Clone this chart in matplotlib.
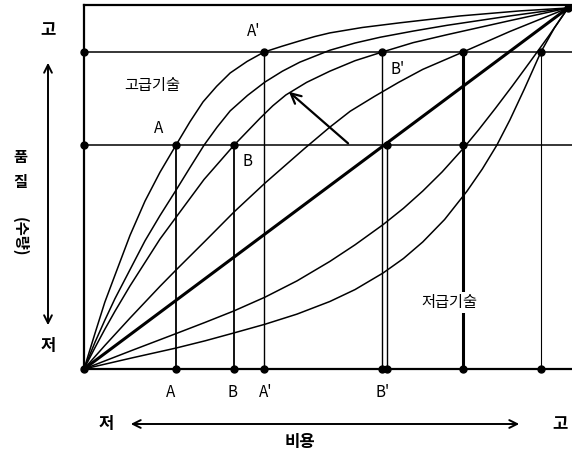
import matplotlib
matplotlib.use("Agg")
import matplotlib.pyplot as plt

plt.rcParams['font.family'] = ['Noto Sans CJK KR', 'DejaVu Sans']

# cost (x) and quality (y) on a 0-100 scale
hi1_x = [0, 2.3, 4.3, 6.4, 9.5, 12.6, 15.7, 19.0, 21.9, 24.6, 27.4, 30.2, 33.7, 37.2, 40.9, 44.6, 47.7, 50.8, 57.5, 65.3, 77.7, 90.1, 100]
hi1_y = [0, 10, 18.5, 26, 37, 46.5, 54.5, 62, 68.5, 74, 78.3, 82, 85.2, 87.8, 89.4, 90.9, 92.1, 93.1, 94.6, 95.9, 97.8, 99.2, 100]
hi2_x = [0, 2.3, 4.3, 6.4, 9.5, 12.6, 15.7, 19.0, 21.9, 24.8, 27.5, 30.2, 33.8, 37.4, 41, 44.6, 50.8, 56, 61.2, 68, 75, 88, 100]
hi2_y = [0, 7.5, 13.5, 19.5, 27.5, 35.5, 42.5, 49.5, 55.8, 62, 67, 71.5, 75.8, 79.5, 82.5, 85, 88.3, 90.3, 91.9, 93.6, 95.2, 97.8, 100]
hi3_x = [0, 2.3, 4.3, 6.4, 9.5, 12.6, 15.7, 19.0, 24.8, 31.0, 36.4, 39, 41.7, 46, 50.8, 56, 61.6, 68, 75, 88, 100]
hi3_y = [0, 6, 11, 16, 23, 29.5, 36, 42, 52.5, 62, 69.5, 72.9, 75.9, 79.4, 82.5, 85.4, 87.8, 90.4, 92.6, 96.5, 100]
hi4_x = [0, 4.3, 9.5, 15.7, 19.0, 25.0, 31.0, 37.4, 45.5, 50.8, 55, 60, 65, 70, 78.3, 88, 100]
hi4_y = [0, 6.5, 14.1, 22.9, 27.4, 35.4, 43.5, 51.5, 61, 67, 71.4, 75.5, 79.4, 83, 87.8, 93.5, 100]
diag_x = [0, 100]
diag_y = [0, 100]
lo1_x = [0, 10, 19.0, 25, 31.0, 37.4, 44, 50.8, 56, 61.8, 66, 70, 74, 78.3, 81.5, 85, 88.5, 92, 96, 100]
lo1_y = [0, 5.2, 9.8, 12.9, 16.1, 19.9, 24.4, 29.8, 34.4, 40.0, 44.5, 49.3, 54.6, 61, 66.2, 72.2, 78.4, 84.8, 92.2, 100]
lo2_x = [0, 10, 19.0, 25, 31.0, 37.4, 44, 50.8, 56, 61.8, 66, 70, 74.5, 79.1, 82.3, 85.3, 88, 91, 94.4, 97.2, 100]
lo2_y = [0, 3.1, 5.8, 7.8, 10, 12.4, 15.2, 18.7, 22, 26.6, 30.6, 35.2, 41.4, 49.2, 55.4, 62, 69, 77.6, 87.8, 94.5, 100]

q_levels = [62.0, 87.8]
# vertical drop lines: cost, top quality
drop_x = [19.0, 31.0, 37.2, 61.6, 62.6, 78.3, 94.4]
drop_top = [62.0, 62.0, 87.8, 87.8, 62.0, 87.8, 87.8]
drop_lw = [1.3, 1.3, 1.0, 1.0, 1.0, 2.2, 0.8]
dot_x = [0, 0, 19.0, 31.0, 37.2, 61.6, 62.6, 78.3, 78.3, 94.4, 100]
dot_y = [62.0, 87.8, 62.0, 62.0, 87.8, 87.8, 62.0, 62.0, 87.8, 87.8, 100]
bottom_labels = ['A', 'B', "A'", "B'"]
bottom_label_x = [17.8, 30.6, 37.6, 61.8]

fig = plt.figure(figsize=(5.72, 4.58), dpi=100)
ax = fig.add_axes([84/572, 89/458, 488/572, 364/458])
ax.set_xlim(0, 100.83)
ax.set_ylim(0, 100.83)
ax.set_xticks([])
ax.set_yticks([])
ax.spines['right'].set_visible(False)
for s in ['left', 'top', 'bottom']:
    ax.spines[s].set_linewidth(1.6)

for q in q_levels:
    ax.axhline(q, color='black', lw=1.1)
for x, top, lw in zip(drop_x, drop_top, drop_lw):
    ax.plot([x, x], [0, top], color='black', lw=lw)

for cx, cy in [(hi1_x, hi1_y), (hi2_x, hi2_y), (hi3_x, hi3_y), (hi4_x, hi4_y),
               (lo1_x, lo1_y), (lo2_x, lo2_y)]:
    ax.plot(cx, cy, color='black', lw=1.1)
ax.plot(diag_x, diag_y, color='black', lw=2.2)

ax.plot(dot_x, dot_y, 'o', color='black', ms=5, clip_on=False, zorder=5)
ax.plot([0] + drop_x, [0] * (len(drop_x) + 1), 'o', color='black', ms=5, clip_on=False, zorder=5)

ax.annotate('', xy=(41.9, 77.3), xytext=(55.0, 62.0),
            arrowprops=dict(arrowstyle='->', lw=1.6, color='black', mutation_scale=18))

ax.text(14, 78.5, '고급기술', fontsize=11, ha='center', va='center')
ax.text(75.5, 18.5, '저급기술', fontsize=11, ha='center', va='center',
        bbox=dict(facecolor='white', edgecolor='none', pad=1.5))
ax.text(15.5, 66.5, 'A', fontsize=11, ha='center', va='center')
ax.text(33.8, 57.5, 'B', fontsize=11, ha='center', va='center')
ax.text(35.0, 93.5, "A'", fontsize=11, ha='center', va='center')
ax.text(64.8, 83.0, "B'", fontsize=11, ha='center', va='center')
for lab, x in zip(bottom_labels, bottom_label_x):
    ax.text(x, -6.5, lab, fontsize=11, ha='center', va='center', clip_on=False)

# axis captions in figure coordinates
def fx(px):
    return px / 572
def fy(py):
    return 1 - py / 458

fig.text(fx(48), fy(30), '고', fontsize=12, ha='center', va='center', weight='bold')
fig.text(fx(48), fy(346), '저', fontsize=12, ha='center', va='center', weight='bold')
fig.text(fx(20), fy(157), '품', fontsize=11, ha='center', va='center', weight='bold')
fig.text(fx(20), fy(182), '질', fontsize=11, ha='center', va='center', weight='bold')
fig.text(fx(20), fy(237), '(수량)', fontsize=11, ha='center', va='center', rotation=-90, weight='bold')
fig.text(fx(106), fy(424), '저', fontsize=12, ha='center', va='center', weight='bold')
fig.text(fx(560), fy(424), '고', fontsize=12, ha='center', va='center', weight='bold')
fig.text(fx(300), fy(442), '비용', fontsize=12, ha='center', va='center', weight='bold')

fig.add_artist(matplotlib.patches.FancyArrowPatch((fx(48), fy(60)), (fx(48), fy(328)),
               transform=fig.transFigure, arrowstyle='<->', mutation_scale=14, lw=1.4, color='black'))
fig.add_artist(matplotlib.patches.FancyArrowPatch((fx(128), fy(424)), (fx(522), fy(424)),
               transform=fig.transFigure, arrowstyle='<->', mutation_scale=14, lw=1.4, color='black'))

fig.savefig('out.png', dpi=100)
